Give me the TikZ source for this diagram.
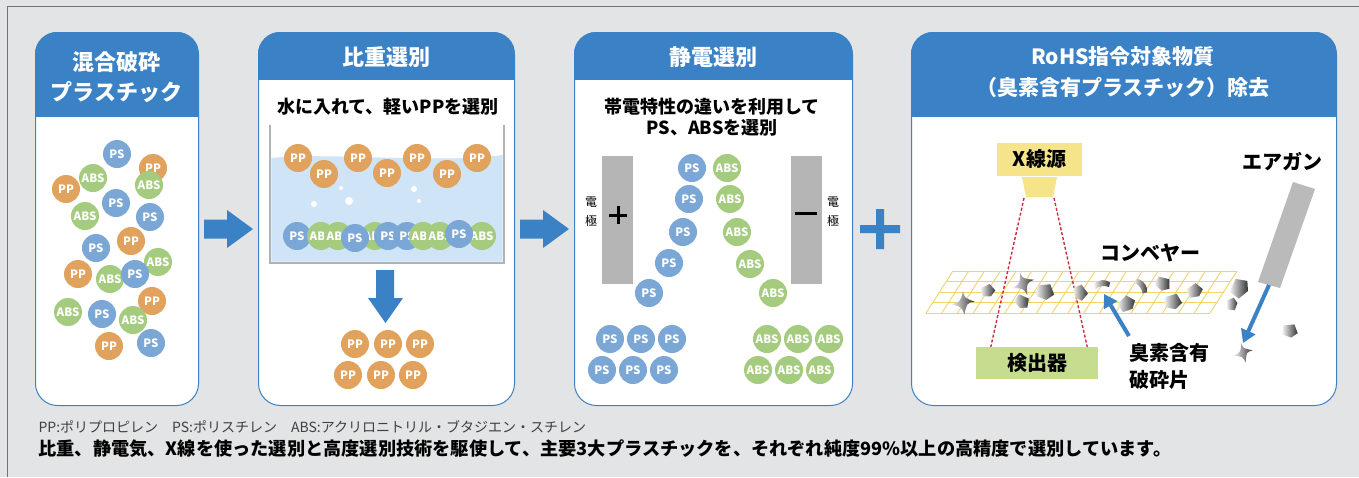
\documentclass[tikz,border=0pt]{standalone}
\usepackage{fontspec}
\setmainfont{Noto Sans CJK JP}
\usetikzlibrary{arrows.meta}

\definecolor{bggray}{HTML}{E3E4E5}
\definecolor{headblue}{HTML}{3A81C6}
\definecolor{PPcol}{HTML}{E0A25C}
\definecolor{PScol}{HTML}{7BA7D6}
\definecolor{ABScol}{HTML}{A4CB7E}
\definecolor{water}{HTML}{CFE4F6}
\definecolor{tankgray}{HTML}{B0B3B5}
\definecolor{plategray}{HTML}{B5B5B5}
\definecolor{xyellow}{HTML}{F5E48A}
\definecolor{detgreen}{HTML}{C6DC8E}
\definecolor{gridyellow}{HTML}{F0D46A}
\definecolor{beamred}{HTML}{CF2A3E}

\begin{document}
\begin{tikzpicture}[x=1pt, y=-1pt,
  panel/.style={draw=headblue, line width=1pt, fill=white, rounded corners=22pt,
    inner sep=0pt, anchor=north west, minimum height=373pt},
  headtext/.style={text=white, align=center, font=\fontsize{22}{30}\selectfont\bfseries},
  subtext/.style={align=center, font=\fontsize{18}{21}\selectfont\bfseries},
  jptext/.style={font=\fontsize{20}{27}\selectfont\bfseries},
  chip/.style={circle, minimum size=28pt, inner sep=0pt, fill=#1col, text=white,
    font=\fontsize{11.5}{12}\selectfont\bfseries},
  plate/.style={fill=plategray, minimum width=31pt, minimum height=128pt, inner sep=0pt},
  boxtag/.style={minimum height=33pt, inner sep=0pt, font=\fontsize{20}{20}\selectfont\bfseries},
  beam/.style={beamred, line width=1.4pt, dash pattern=on 3pt off 2pt},
  belt/.style={gridyellow, line width=0.9pt},
  flow/.style={headblue, line width=4pt, -{Triangle[length=13pt,width=15pt]}},
  shardfill/.style={left color=black!5, right color=black!80},
  shard/.pic={\path[shardfill] (-6,-5) -- (4,-6) -- (7,2) -- (1,6) -- (-7,3) -- cycle;},
  spike/.pic={\path[shardfill] (0,-9) .. controls (1,-4) .. (9,-1) .. controls (3,0) .. (1,9)
    .. controls (-1,3) .. (-9,1) .. controls (-2,-1) .. cycle;},
  sliver/.pic={\path[shardfill] (-7,-2) .. controls (-2,-6) and (3,-6) .. (7,-3) -- (6,1)
    .. controls (2,-1) and (-3,0) .. (-6,3) -- cycle;}]

\useasboundingbox (0,0) rectangle (1359,477);
\fill[bggray] (0,0) rectangle (1359,477);
\draw[black!55, line width=0.8pt] (7,477) -- (7,6) -- (1359,6);

% four panels with blue heads
\node[panel, minimum width=163pt] (mix) at (35,32) {};
\node[panel, minimum width=256pt] (sink) at (258,32) {};
\node[panel, minimum width=278pt] (static) at (574,32) {};
\node[panel, minimum width=425pt] (rohs) at (911,32) {};
\foreach \p/\h in {mix/117,sink/80,static/80,rohs/117} {
  \begin{scope}
    \clip[rounded corners=22pt] (\p.north west) rectangle (\p.south east);
    \fill[headblue] (\p.north west) rectangle (\p.east |- 0,\h);
  \end{scope}
}
\node[headtext] (mixt) at (116.5,77) {混合破砕\\プラスチック};
\node[headtext] (sinkt) at (386,57) {比重選別};
\node[headtext] (statict) at (713,57) {静電選別};
\node[headtext, font=\fontsize{21}{31}\selectfont\bfseries] (rohst) at (1123,72.5)
  {RoHS指令対象物質\\（臭素含有プラスチック）除去};

% arrows between the steps
\fill[headblue] (204,219.5) -- (227,219.5) -- (227,210) -- (253,229) -- (227,248)
  -- (227,238.5) -- (204,238.5) -- cycle;
\fill[headblue] (520,219.5) -- (543,219.5) -- (543,210) -- (569,229) -- (543,248)
  -- (543,238.5) -- (520,238.5) -- cycle;
\fill[headblue] (860,225) rectangle (900,233) (876,209) rectangle (884,249);

% mixed chips
\foreach \x/\y/\k [count=\i] in {117/154/PS,153/168/PP,93/178/ABS,66/189/PP,149/185/ABS,
    116/203/PS,85/216/ABS,150/217/PS,131/241/PP,96/248/PS,158/262/ABS,78/274/PP,
    110/279/ABS,135/274/PS,152/301/PP,68/312/ABS,102/314/PS,133/320/ABS,109/346/PP,151/343/PS}
  \node[chip=\k] (m\i) at (\x,\y) {\k};

% water tank
\node[subtext] (sinks) at (388,107) {水に入れて、軽いPPを選別};
\fill[water] (271.3,158) .. controls (330,152) and (440,164) .. (502.7,155)
  -- (502.7,261.7) -- (271.3,261.7) -- cycle;
\draw[tankgray, line width=2.5pt] (270,125) -- (270,263) -- (504,263) -- (504,125);
\foreach \x/\y [count=\i] in {298/158,324/174,358/158,387/173,417/158,447/174,477/158}
  \node[chip=PP] (f\i) at (\x,\y) {PP};
\foreach \x/\y/\r in {341/188/2,314/204/3,349/201/4,414/189/3,419/201/2}
  \fill[white] (\x,\y) circle (\r);
\foreach \x/\y/\k [count=\i] in {297/236/PS,321/236/ABS,338/236/ABS,375/236/ABS,388/236/PS,
    407/236/PS,423/236/ABS,440/236/ABS,482/236/ABS,355/238/PS,459/234/PS}
  \node[chip=\k] (s\i) at (\x,\y) {\k};
\fill[headblue] (376,270) -- (394,270) -- (394,298) -- (403,298) -- (385.5,323)
  -- (368,298) -- (376,298) -- cycle;
\foreach \x/\y [count=\i] in {355/344,388/344,420/344,348/375,381/375,413/375}
  \node[chip=PP] (pp\i) at (\x,\y) {PP};

% electrostatic separation
\node[subtext] (statics) at (712,117.5) {帯電特性の違いを利用して\\PS、ABSを選別};
\node[plate] (anode) at (617.5,220) {};
\node[plate] (cathode) at (806,220) {};
\draw[line width=3pt] (609,215) -- (627,215) (618,206) -- (618,224);
\draw[line width=3pt] (795,213) -- (817,213);
\node[align=center, font=\fontsize{12}{19}\selectfont] (anodel) at (591,212) {電\\極};
\node[align=center, font=\fontsize{12}{19}\selectfont] (cathodel) at (833,212) {電\\極};
\foreach \x/\y [count=\i] in {692/168,689/199,683/232,669/263,649/293,
    610/339,641/339,672/339,602/370,633/370,664/370}
  \node[chip=PS] (ps\i) at (\x,\y) {PS};
\foreach \x/\y [count=\i] in {727/168,730/199,737/232,750/264,773/293,
    767/339,798/339,829/339,758/370,789/370,820/370}
  \node[chip=ABS] (abs\i) at (\x,\y) {ABS};

% x-ray sorting on the belt
\node[boxtag, fill=xyellow, minimum width=85pt] (xray) at (1039.5,159) {X線源};
\fill[xyellow] (1022,177) -- (1057,177) -- (1053,197) -- (1026,197) -- cycle;
\coordinate (lens) at (1039.5,198);
\node[boxtag, fill=detgreen, minimum width=122pt, minimum height=32pt] (det) at (1037,363) {検出器};
\foreach \i in {0,...,18}
  \draw[belt] (953+\i*15.78,271) -- (926+\i*15.78,313);
\foreach \j in {0,...,4}
  \draw[belt] (953-6.75*\j,271+10.5*\j) -- (1237-6.75*\j,271+10.5*\j);
\draw[beam] ([xshift=-15.5pt]lens) -- ([xshift=15pt]det.north west);
\draw[beam] ([xshift=14.5pt]lens) -- ([xshift=-11pt]det.north east);
\node[jptext] (beltt) at (1150,253) {コンベヤー};
\foreach \x/\y/\r/\s in {988/291/20/1,1022/302/-30/1.05,1045/292/0/1.3,1080/293/-60/1.1,
    1127/304/40/1.2,1163/284/-20/1.1,1173/302/10/1.25,1195/291/30/1.1,
    1240/288/60/1.4,1232/304/90/0.9,1290/331/0/1.1}
  \pic[rotate=\r, scale=\s] at (\x,\y) {shard};
\foreach \x/\y/\r/\s in {963/303/0/1.3,1023/284/15/1.3,1243/353/10/1.1}
  \pic[rotate=\r, scale=\s] at (\x,\y) {spike};
\foreach \x/\y/\r in {1102/286/0,1140/287/-60}
  \pic[rotate=\r, scale=1.15] at (\x,\y) {sliver};
\coordinate (hit) at (1243,353);

% air gun
\fill[black!27] (1293,182) -- (1315,189) -- (1280,288) -- (1258,282) -- cycle;
\coordinate (nozzle) at (1269,285);
\node[jptext] (gunt) at (1282,162) {エアガン};
\draw[flow] (nozzle) -- ([yshift=10pt]hit);

\node[jptext, anchor=west, align=left] (bromo) at (1126,366) {臭素含有\\破砕片};
\coordinate (tail) at (1129,336);
\coordinate (tip) at (1104,294);
\draw[flow] (tail) -- (tip);

% notes
\node[anchor=west, text=black!75, font=\fontsize{14}{15}\selectfont] (abbr) at (35,427)
  {PP:ポリプロピレン\quad PS:ポリスチレン\quad ABS:アクリロニトリル・ブタジエン・スチレン};
\node[anchor=west, font=\fontsize{18.2}{20}\selectfont\bfseries] (summary) at (35,449)
  {比重、静電気、X線を使った選別と高度選別技術を駆使して、主要3大プラスチックを、それぞれ純度99\%以上の高精度で選別しています。};
\end{tikzpicture}
\end{document}
